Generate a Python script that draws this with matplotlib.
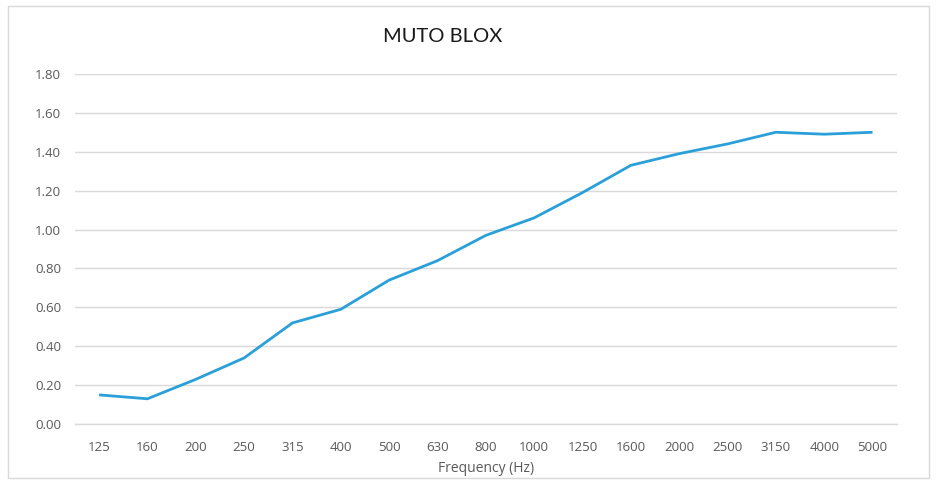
import matplotlib
matplotlib.use("Agg")
import matplotlib.pyplot as plt
from matplotlib.patches import Rectangle

# data
frequencies = ["125", "160", "200", "250", "315", "400", "500", "630", "800",
               "1000", "1250", "1600", "2000", "2500", "3150", "4000", "5000"]
absorption = [0.15, 0.13, 0.23, 0.34, 0.52, 0.59, 0.74, 0.84, 0.97,
              1.06, 1.19, 1.33, 1.39, 1.44, 1.50, 1.49, 1.50]
y_ticks = [0.0, 0.2, 0.4, 0.6, 0.8, 1.0, 1.2, 1.4, 1.6, 1.8]

plt.rcParams['font.family'] = ['Open Sans', 'DejaVu Sans']

fig = plt.figure(figsize=(9.37, 4.83), dpi=100)
ax = fig.add_axes([0.080, 0.122, 0.877, 0.725])

x = list(range(len(frequencies)))
ax.plot(x, absorption, color='#2A9FD8', linewidth=2.0, solid_capstyle='butt', zorder=3)

ax.set_xlim(-0.5, len(frequencies) - 0.5)
ax.set_ylim(0, 1.8)
ax.set_yticks(y_ticks)
ax.set_yticklabels([f"{v:.2f}" for v in y_ticks])
ax.set_xticks(x)
ax.set_xticklabels(frequencies)

ax.grid(axis='y', color='#D9D9D9', linewidth=1.0)
ax.set_axisbelow(True)
for side in ['top', 'right', 'left']:
    ax.spines[side].set_visible(False)
ax.spines['bottom'].set_color('#D9D9D9')
ax.spines['bottom'].set_linewidth(1.0)

ax.tick_params(axis='both', length=0, labelsize=9.5, labelcolor='#595959')
ax.tick_params(axis='y', pad=10)
ax.tick_params(axis='x', pad=12)

ax.set_xlabel("Frequency (Hz)", fontsize=10, color='#595959', labelpad=5)

fig.text(443 / 937, 1 - 37 / 483, "MUTO BLOX", ha='center', va='center',
         fontsize=14.5, color='#1a1a1a', family=['Lato', 'DejaVu Sans'])

# light frame round the chart area
fig.patches.append(Rectangle((8 / 937, 5 / 483), 921 / 937, 472 / 483,
                             transform=fig.transFigure, fill=False,
                             edgecolor='#D9D9D9', linewidth=1.0))

fig.savefig("out.png", dpi=100)
